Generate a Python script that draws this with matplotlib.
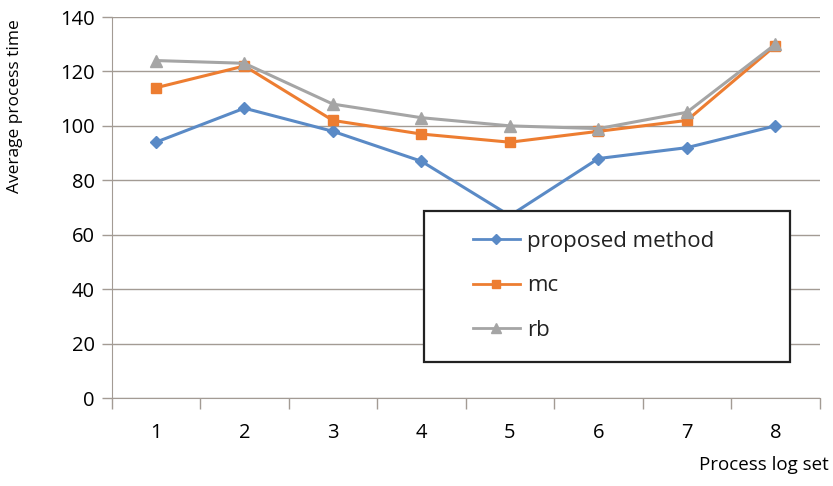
import matplotlib.pyplot as plt
import matplotlib.patches as patches
import numpy as np

plt.rcParams['font.family'] = ['Open Sans', 'DejaVu Sans']

# Process log sets on the x axis
log_sets = [1, 2, 3, 4, 5, 6, 7, 8]

# Average process time per method
proposed = [94, 106.5, 98, 87, 67, 88, 92, 100]
mc = [114, 122, 102, 97, 94, 98, 102, 129.5]
rb = [124, 123, 108, 103, 100, 99, 105, 130]

fig = plt.figure(figsize=(8.33, 4.86), dpi=100)
ax = fig.add_axes([0.134, 0.181, 0.850, 0.784])

grid_col = '#a39b94'
ax.plot(log_sets, proposed, color='#5a8ac6', lw=2.2, marker='D', ms=6,
        label='proposed method')
ax.plot(log_sets, mc, color='#ed7d31', lw=2.2, marker='s', ms=7.5, label='mc')
ax.plot(log_sets, rb, color='#a5a5a5', lw=2.2, marker='^', ms=8, label='rb')

ax.set_xlim(0.5, 8.5)
ax.set_ylim(0, 140)
ax.set_yticks(np.arange(0, 141, 20))
ax.set_xticks(log_sets)
ax.set_xticks(np.arange(0.5, 8.6, 1), minor=True)
ax.tick_params(axis='x', which='major', length=0, pad=18, labelsize=14.5)
ax.tick_params(axis='x', which='minor', length=8, color=grid_col, width=1)
ax.tick_params(axis='y', length=7, color=grid_col, width=1, labelsize=14.5, pad=5)
ax.yaxis.grid(True, color=grid_col, lw=1)
ax.set_axisbelow(True)

for s in ['top', 'right']:
    ax.spines[s].set_visible(False)
ax.spines['left'].set_color(grid_col)
ax.spines['bottom'].set_color(grid_col)

fig.text(15 / 833, 1 - 106 / 486, 'Average process time', rotation=90,
         ha='center', va='center', fontsize=12.5)
fig.text(0.995, 0.025, 'Process log set', ha='right', va='bottom', fontsize=13.5)

# legend box drawn over the lines
box = patches.Rectangle((424 / 833, 1 - 362 / 486), 366 / 833, 151 / 486,
                        transform=fig.transFigure, facecolor='white',
                        edgecolor='#222222', lw=1.6, zorder=4, clip_on=False)
ax.add_patch(box)

leg = ax.legend(loc='upper left', bbox_to_anchor=(473 / 833, 1 - 231 / 486),
                bbox_transform=fig.transFigure, fontsize=16, frameon=False,
                borderpad=0, labelspacing=1.05, handlelength=2.1,
                borderaxespad=0, handletextpad=0.35, markerscale=0.85)
leg.set_zorder(5)
for line in leg.get_lines():
    line.set_linewidth(2.0)
for t in leg.get_texts():
    t.set_color('#222222')

fig.savefig('out.png', dpi=100)
